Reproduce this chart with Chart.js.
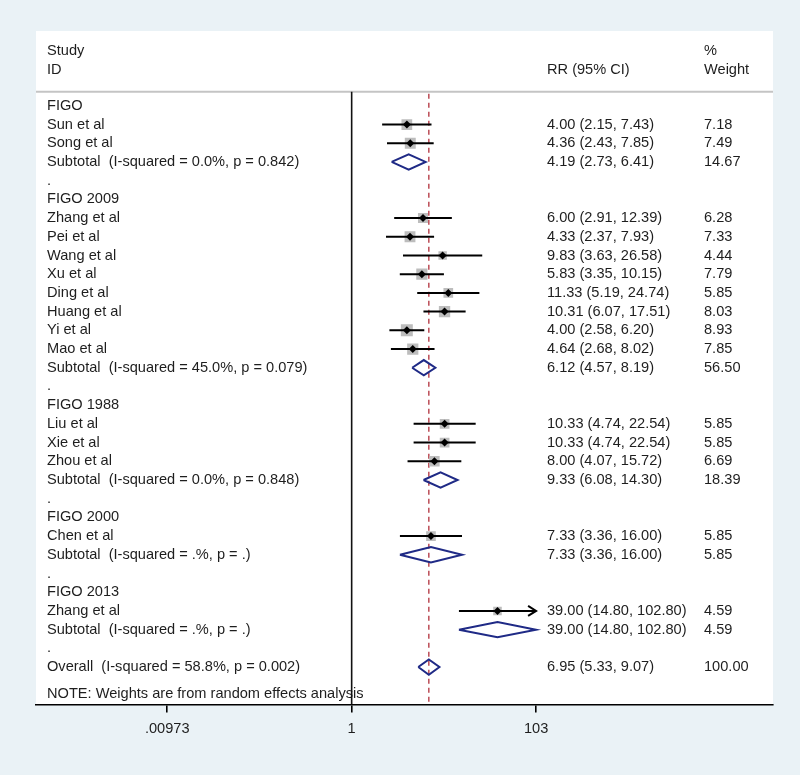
<!DOCTYPE html>
<html>
<head>
<meta charset="utf-8">
<script src="https://cdn.jsdelivr.net/npm/chart.js@4.4.1/dist/chart.umd.min.js"></script>
<style>
  html, body { margin: 0; padding: 0; background: #eaf2f6; }
  canvas { display: block; }
</style>
</head>
<body>
<canvas id="forest" width="800" height="775"></canvas>
<script>
// rows of the forest plot, top to bottom
const rowLabels = [
  'FIGO', 'Sun et al', 'Song et al', 'Subtotal  (I-squared = 0.0%, p = 0.842)', '.',
  'FIGO 2009', 'Zhang et al', 'Pei et al', 'Wang et al', 'Xu et al', 'Ding et al',
  'Huang et al', 'Yi et al', 'Mao et al', 'Subtotal  (I-squared = 45.0%, p = 0.079)', '.',
  'FIGO 1988', 'Liu et al', 'Xie et al', 'Zhou et al', 'Subtotal  (I-squared = 0.0%, p = 0.848)', '.',
  'FIGO 2000', 'Chen et al', 'Subtotal  (I-squared = .%, p = .)', '.',
  'FIGO 2013', 'Zhang et al', 'Subtotal  (I-squared = .%, p = .)', '.',
  'Overall  (I-squared = 58.8%, p = 0.002)'
];
const rowKinds = [
  'group', 'study', 'study', 'sub', 'gap',
  'group', 'study', 'study', 'study', 'study', 'study', 'study', 'study', 'study', 'sub', 'gap',
  'group', 'study', 'study', 'study', 'sub', 'gap',
  'group', 'study', 'sub', 'gap',
  'group', 'study', 'sub', 'gap',
  'overall'
];
const rr = [
  null, 4.00, 4.36, 4.19, null,
  null, 6.00, 4.33, 9.83, 5.83, 11.33, 10.31, 4.00, 4.64, 6.12, null,
  null, 10.33, 10.33, 8.00, 9.33, null,
  null, 7.33, 7.33, null,
  null, 39.00, 39.00, null,
  6.95
];
const ciLow = [
  null, 2.15, 2.43, 2.73, null,
  null, 2.91, 2.37, 3.63, 3.35, 5.19, 6.07, 2.58, 2.68, 4.57, null,
  null, 4.74, 4.74, 4.07, 6.08, null,
  null, 3.36, 3.36, null,
  null, 14.80, 14.80, null,
  5.33
];
const ciHigh = [
  null, 7.43, 7.85, 6.41, null,
  null, 12.39, 7.93, 26.58, 10.15, 24.74, 17.51, 6.20, 8.02, 8.19, null,
  null, 22.54, 22.54, 15.72, 14.30, null,
  null, 16.00, 16.00, null,
  null, 102.80, 102.80, null,
  9.07
];
const weights = [
  null, 7.18, 7.49, 14.67, null,
  null, 6.28, 7.33, 4.44, 7.79, 5.85, 8.03, 8.93, 7.85, 56.50, null,
  null, 5.85, 5.85, 6.69, 18.39, null,
  null, 5.85, 5.85, null,
  null, 4.59, 4.59, null,
  100.00
];
const tickVals = [0.00973, 1, 103];
const tickLabels = ['.00973', '1', '103'];

const FONT = '14.6px "Liberation Sans", Arial, sans-serif';
const TEXT = '#1e1e1e';
const NAVY = '#1f2a86';
const DH = 0.41; // half height of pooled diamonds, in rows

const studyRows = [];
const pooledRows = [];
rowKinds.forEach((k, i) => {
  if (k === 'study') studyRows.push(i);
  if (k === 'sub' || k === 'overall') pooledRows.push(i);
});
const overallRow = rowKinds.indexOf('overall');

const pointData = studyRows.map(i => ({ x: rr[i], y: i, w: weights[i] }));
const ciData = [];
studyRows.forEach(i => {
  ciData.push({ x: ciLow[i], y: i }, { x: ciHigh[i], y: i }, { x: NaN, y: NaN });
});
const diamondData = [];
pooledRows.forEach(i => {
  diamondData.push(
    { x: ciLow[i], y: i },
    { x: rr[i], y: i - DH },
    { x: ciHigh[i], y: i },
    { x: rr[i], y: i + DH },
    { x: ciLow[i], y: i },
    { x: NaN, y: NaN }
  );
});

const forestDecor = {
  id: 'forestDecor',
  beforeDraw(chart) {
    const { ctx, chartArea: a } = chart;
    ctx.save();
    ctx.fillStyle = '#eaf2f6';
    ctx.fillRect(0, 0, chart.width, chart.height);
    ctx.fillStyle = '#ffffff';
    ctx.fillRect(a.left, a.top, a.right - a.left, a.bottom - a.top);
    ctx.restore();
  },
  beforeDatasetsDraw(chart) {
    const { ctx, chartArea: a, scales: { x, y } } = chart;
    const sepY = y.getPixelForValue(-0.75);
    ctx.save();
    // header separator
    ctx.strokeStyle = '#c4c4c4';
    ctx.lineWidth = 2;
    ctx.beginPath();
    ctx.moveTo(a.left, sepY);
    ctx.lineTo(a.right, sepY);
    ctx.stroke();

    // text
    ctx.font = FONT;
    ctx.fillStyle = TEXT;
    ctx.textBaseline = 'middle';
    ctx.textAlign = 'left';
    const colL = a.left + 11, colRR = 547, colW = 704;
    ctx.fillText('Study', colL, y.getPixelForValue(-2.95));
    ctx.fillText('ID', colL, y.getPixelForValue(-1.93));
    ctx.fillText('RR (95% CI)', colRR, y.getPixelForValue(-1.93));
    ctx.fillText('%', colW, y.getPixelForValue(-2.95));
    ctx.fillText('Weight', colW, y.getPixelForValue(-1.93));
    rowLabels.forEach((lab, i) => {
      const py = y.getPixelForValue(i);
      ctx.fillText(lab, colL, py);
      if (rr[i] != null) {
        ctx.fillText(`${rr[i].toFixed(2)} (${ciLow[i].toFixed(2)}, ${ciHigh[i].toFixed(2)})`, colRR, py);
        ctx.fillText(weights[i].toFixed(2), colW, py);
      }
    });
    ctx.fillText('NOTE: Weights are from random effects analysis', colL, y.getPixelForValue(31.45));

    // null line at 1
    const x1 = x.getPixelForValue(1);
    ctx.strokeStyle = '#111';
    ctx.lineWidth = 1.6;
    ctx.beginPath();
    ctx.moveTo(x1, sepY);
    ctx.lineTo(x1, a.bottom);
    ctx.stroke();

    // overall effect dashed line
    const xo = x.getPixelForValue(rr[overallRow]);
    ctx.strokeStyle = '#b1303c';
    ctx.lineWidth = 1.3;
    ctx.setLineDash([5, 4]);
    ctx.beginPath();
    ctx.moveTo(xo, sepY + 2);
    ctx.lineTo(xo, a.bottom);
    ctx.stroke();
    ctx.restore();
  },
  afterDatasetsDraw(chart) {
    // arrowheads for CIs running to the axis limit
    const { ctx, scales: { x, y } } = chart;
    const limit = tickVals[tickVals.length - 1];
    ctx.save();
    ctx.strokeStyle = '#000';
    ctx.lineWidth = 2;
    studyRows.forEach(i => {
      if (ciHigh[i] >= limit * 0.98) {
        const px = x.getPixelForValue(ciHigh[i]);
        const py = y.getPixelForValue(i);
        ctx.beginPath();
        ctx.moveTo(px - 8, py - 5);
        ctx.lineTo(px, py);
        ctx.lineTo(px - 8, py + 5);
        ctx.stroke();
      }
    });
    ctx.restore();
  }
};

new Chart(document.getElementById('forest'), {
  type: 'scatter',
  data: {
    datasets: [
      {
        label: 'RR',
        data: pointData,
        pointStyle: 'rectRot',
        pointRadius: 4,
        pointBackgroundColor: '#000',
        pointBorderWidth: 0
      },
      {
        label: 'CI',
        data: ciData,
        showLine: true,
        spanGaps: false,
        borderColor: '#000',
        borderWidth: 2,
        pointRadius: 0
      },
      {
        label: 'weight',
        data: pointData,
        pointStyle: 'rect',
        pointRadius: ctx => (4.0 * Math.sqrt(ctx.raw.w)) / Math.SQRT2,
        pointBackgroundColor: '#bdbdbd',
        pointBorderWidth: 0
      },
      {
        label: 'pooled',
        data: diamondData,
        showLine: true,
        spanGaps: false,
        borderColor: NAVY,
        borderWidth: 2,
        borderJoinStyle: 'miter',
        tension: 0,
        pointRadius: 0
      }
    ]
  },
  options: {
    responsive: false,
    animation: false,
    events: [],
    layout: { padding: { left: 36, right: 27, top: 31, bottom: 29 } },
    scales: {
      x: {
        type: 'logarithmic',
        min: 3.6e-4,
        max: 3.95e4,
        afterBuildTicks: axis => {
          axis.ticks = tickVals.map(v => ({ value: v }));
        },
        border: { display: true, color: '#000', width: 1.6 },
        grid: {
          drawOnChartArea: false,
          drawTicks: true,
          tickLength: 8,
          color: '#000',
          lineWidth: 1.6
        },
        ticks: {
          autoSkip: false,
          maxRotation: 0,
          minRotation: 0,
          padding: 8,
          color: TEXT,
          font: { size: 14.6, family: '"Liberation Sans", Arial, sans-serif' },
          callback: (value, index) => tickLabels[index]
        }
      },
      y: {
        type: 'linear',
        reverse: true,
        min: -4,
        max: 32,
        display: false
      }
    },
    plugins: {
      legend: { display: false },
      tooltip: { enabled: false }
    }
  },
  plugins: [forestDecor]
});
</script>
</body>
</html>
